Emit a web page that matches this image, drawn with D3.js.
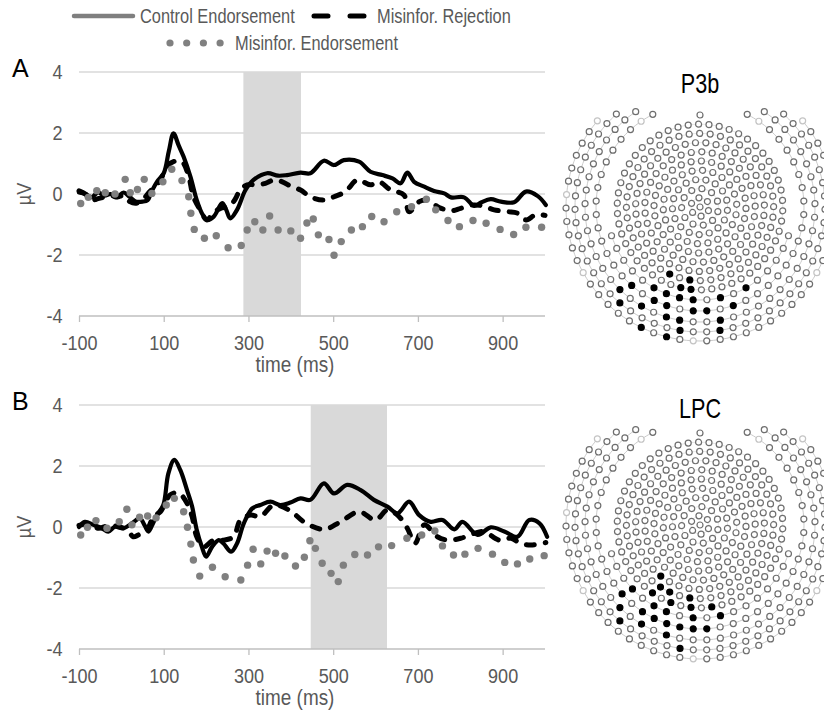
<!DOCTYPE html>
<html><head><meta charset="utf-8">
<script src="https://cdn.jsdelivr.net/npm/d3@7"></script>
<style>html,body{margin:0;padding:0;background:#fff;}</style>
</head><body>
<svg id="chart" width="824" height="714"></svg>
<script>
// ---------- DATA ----------
const xTicks = [-100, 100, 300, 500, 700, 900];
const yTicks = [-4, -2, 0, 2, 4];
const seriesNames = ["Control Endorsement", "Misinfor. Rejection", "Misinfor. Endorsement"];
const panelLabels = ["A", "B"];
const componentTitles = ["P3b", "LPC"];
const windowA = [288, 424];
const windowB = [447, 627];

const controlA = [[-100,0.05],[-85,0.0],[-70,-0.1],[-55,0.05],[-40,-0.05],[-25,0.0],[-10,-0.1],[5,0.05],[20,-0.1],[35,-0.25],[50,-0.25],[62,-0.2],[72,0.1],[84,0.4],[100,0.68],[112,1.4],[123,1.99],[135,1.6],[147,1.22],[163,0.57],[178,-0.2],[190,-0.63],[202,-0.85],[218,-0.74],[238,-0.3],[247,-0.5],[257,-0.8],[273,-0.52],[293,0.13],[312,0.46],[344,0.68],[370,0.6],[391,0.62],[423,0.7],[446,0.68],[478,1.09],[502,0.95],[525,1.11],[561,1.06],[588,0.73],[616,0.62],[640,0.51],[659,0.35],[675,0.7],[691,0.4],[715,0.24],[738,0.1],[762,0.02],[778,-0.11],[809,-0.11],[833,-0.39],[849,-0.28],[872,-0.17],[896,-0.25],[927,-0.27],[955,0.08],[983,-0.07],[1002,-0.36]];
const rejectionA = [[-100,0.1],[-85,0.0],[-70,-0.2],[-55,-0.15],[-40,-0.1],[-25,-0.05],[-10,-0.1],[5,-0.05],[20,-0.25],[35,-0.3],[50,-0.2],[65,0.05],[80,0.25],[92,0.46],[108,0.9],[123,1.06],[143,1.06],[159,0.57],[170,-0.09],[186,-0.52],[202,-0.85],[218,-0.6],[234,-0.47],[253,-0.41],[265,-0.25],[281,0.13],[297,0.3],[320,0.3],[340,0.35],[360,0.46],[380,0.4],[399,0.26],[423,0.13],[446,-0.09],[478,-0.2],[502,-0.09],[529,0.08],[557,0.46],[588,0.3],[608,0.4],[636,0.13],[667,-0.03],[679,-0.58],[703,-0.25],[722,-0.2],[750,-0.44],[778,-0.55],[801,-0.47],[829,-0.36],[853,-0.39],[880,-0.52],[912,-0.58],[935,-0.63],[955,-0.85],[979,-0.67],[1000,-0.7]];
const endorsementA = [[-96,-0.31],[-78,-0.11],[-58,0.11],[-38,0.04],[-15,0.0],[9,0.48],[21,0.04],[38,0.15],[54,0.48],[72,0.02],[98,0.4],[119,0.81],[143,0.44],[159,-0.09],[164,-0.63],[172,-1.16],[196,-1.45],[224,-1.37],[252,-1.76],[283,-1.69],[297,-1.18],[315,-0.91],[334,-1.18],[350,-0.72],[370,-1.18],[400,-1.21],[423,-1.45],[438,-0.95],[453,-0.82],[465,-1.34],[490,-1.49],[502,-2.01],[519,-1.56],[543,-1.18],[569,-1.07],[591,-0.74],[620,-0.91],[650,-0.58],[685,-0.42],[720,-0.17],[742,-0.52],[771,-0.87],[798,-1.07],[830,-0.87],[861,-0.96],[894,-1.16],[926,-1.33],[955,-1.09],[992,-1.09]];

const controlB = [[-100,0.0],[-86,0.17],[-66,0.07],[-46,-0.04],[-31,-0.15],[-15,0.01],[5,-0.04],[25,0.12],[44,0.28],[55,0.05],[64,-0.15],[74,0.1],[84,0.39],[99,0.72],[111,1.76],[125,2.2],[139,1.87],[155,1.21],[167,0.67],[178,-0.1],[190,-0.65],[200,-0.97],[214,-0.65],[230,-0.43],[241,-0.54],[259,-0.81],[273,-0.54],[289,0.12],[309,0.61],[328,0.72],[352,0.83],[375,0.72],[399,0.8],[423,0.94],[446,0.89],[478,1.43],[502,1.1],[533,1.38],[565,1.21],[596,0.89],[628,0.67],[652,0.45],[679,0.83],[703,0.39],[730,0.17],[758,0.23],[786,-0.08],[805,0.17],[841,-0.26],[872,-0.01],[904,-0.15],[935,-0.32],[963,0.23],[987,0.12],[1005,-0.32]];
const rejectionB = [[-100,0.05],[-80,0.1],[-54,-0.04],[-30,0.05],[-7,0.01],[15,-0.1],[28,-0.32],[40,-0.26],[60,-0.1],[76,0.34],[92,0.5],[115,1.05],[135,1.12],[155,0.78],[167,0.34],[178,-0.32],[194,-0.65],[218,-0.43],[241,-0.43],[265,-0.32],[281,0.23],[305,0.39],[328,0.34],[360,0.72],[399,0.53],[431,0.17],[478,-0.08],[517,0.17],[561,0.5],[600,0.23],[628,0.56],[652,0.39],[675,-0.04],[693,-0.54],[715,0.07],[746,-0.32],[770,-0.43],[801,-0.37],[833,-0.21],[856,-0.15],[892,-0.43],[920,-0.37],[943,-0.54],[967,-0.59],[1002,-0.51]];
const endorsementB = [[-96,-0.26],[-80,-0.01],[-60,0.21],[-34,-0.04],[-5,0.17],[13,0.58],[25,0.07],[43,0.32],[62,0.36],[82,0.3],[106,0.72],[125,0.94],[147,0.5],[156,-0.01],[164,-0.56],[170,-1.08],[185,-1.61],[215,-1.32],[245,-1.63],[282,-1.74],[298,-1.25],[311,-0.73],[329,-1.21],[344,-0.79],[364,-0.86],[386,-0.95],[411,-1.28],[432,-0.99],[445,-0.45],[458,-0.7],[474,-1.19],[495,-1.52],[512,-1.79],[524,-1.25],[551,-0.9],[581,-0.92],[607,-0.65],[638,-0.61],[674,-0.37],[709,-0.26],[740,-0.13],[758,-0.62],[784,-0.92],[811,-0.89],[842,-0.7],[876,-0.89],[905,-1.16],[935,-1.21],[964,-1.05],[998,-0.94]];

// highlighted sensors, as [radius, angle in degrees] on the montage
const p3bSensors = [[72,113],[74,101],[114,134],[106,128],[98,121],[91,114],[83,107],[83,95],[92,64],[125,128],[117,122],[110,116],[102,109],[93,102],[94,90],[93,76],[103,71],[104,96],[103,83],[112,77],[129,115],[120,109],[113,102],[122,97],[122,83],[132,102]];
const lpcSensors = [[69,127],[102,141],[95,134],[87,127],[79,121],[71,114],[72,101],[111,135],[106,127],[98,121],[90,114],[80,108],[82,95],[82,83],[92,76],[123,128],[115,123],[107,116],[100,109],[109,103],[102,96],[93,90],[103,83],[119,109],[129,102]];
const lightSensors = [[134,184],[134,218],[134,90],[134,148],[134,356],[134,322],[134,32],[104,-58],[104,238]];

// montage rings: inner closed rings (radius) and outer open arcs [radius, first angle, last angle]
const innerRings = [9.2, 18.4, 27.6, 36.8, 46, 55.2, 64.4, 73.6, 82.8];
const outerRings = [[93, 18, 162], [104, -63, 243], [115, -56, 236], [125, -48, 228], [134, -40, 220]];

// ---------- LAYOUT ----------
const svg = d3.select("#chart");
svg.append("rect").attr("width", 824).attr("height", 714).attr("fill", "#fff");
const FONT = "'Liberation Sans', Arial, sans-serif";
const GRAY_TXT = "#595959";

function txt(g, x, y, s, o) {
  const rot = o.rotate ? ` rotate(${o.rotate})` : "";
  return g.append("text")
    .attr("transform", `translate(${x},${y})${rot} scale(${o.sx || 1},1)`)
    .attr("text-anchor", o.anchor || "start")
    .attr("dy", o.dy || null)
    .style("font-family", FONT).style("font-size", o.size + "px")
    .attr("fill", o.fill || GRAY_TXT).text(s);
}

const x = d3.scaleLinear().domain([-100, 1000]).range([79, 545]);
const lineGen = (y) => d3.line().x(d => x(d[0])).y(d => y(d[1])).curve(d3.curveCatmullRom.alpha(0.5));

function panel(top, bottom, label, data, win) {
  const y = d3.scaleLinear().domain([-4, 4]).range([bottom, top]);
  const g = svg.append("g");
  g.selectAll("line.grid").data(yTicks.filter(v => v > -4)).join("line")
    .attr("x1", x(-100)).attr("x2", x(1000)).attr("y1", d => y(d)).attr("y2", d => y(d))
    .attr("stroke", "#d9d9d9").attr("stroke-width", 1.3);
  g.append("rect").attr("x", x(win[0])).attr("width", x(win[1]) - x(win[0]))
    .attr("y", y(4)).attr("height", y(-4) - y(4)).attr("fill", "#d9d9d9");
  const ax = g.append("g").attr("transform", `translate(0,${y(-4)})`)
    .call(d3.axisBottom(x).tickValues(xTicks).tickSize(6).tickPadding(13).tickFormat(d => String(d)));
  ax.select(".domain").attr("stroke", "#bfbfbf").attr("stroke-width", 1.3).attr("d", `M${x(-100)},0H${x(1000)}`);
  ax.selectAll(".tick line").attr("stroke", "#bfbfbf").attr("stroke-width", 1.3);
  ax.selectAll(".tick text").attr("fill", GRAY_TXT).style("font-family", FONT).style("font-size", "21px")
    .attr("transform", "scale(0.86,1)");
  const ay = g.append("g").attr("transform", `translate(${x(-100)},0)`)
    .call(d3.axisLeft(y).tickValues(yTicks).tickSize(0).tickPadding(19).tickFormat(d => String(d)));
  ay.select(".domain").remove();
  ay.selectAll(".tick text").attr("fill", GRAY_TXT).style("font-family", FONT).style("font-size", "21px")
    .attr("transform", "scale(0.86,1)");
  txt(g, 24, y(0), "µV", {size: 21, sx: 0.86, anchor: "middle", rotate: -90, dy: "0.35em"});
  txt(g, 295, y(-4) + 56, "time (ms)", {size: 22, sx: 0.86, anchor: "middle"});
  txt(g, 12, top + 5, label, {size: 25, sx: 1.0, fill: "#000"});
  const lg = lineGen(y);
  g.append("path").attr("d", lg(data[0])).attr("fill", "none").attr("stroke", "#000")
    .attr("stroke-width", 4.2).attr("stroke-linejoin", "round").attr("stroke-linecap", "round");
  g.append("path").attr("d", lg(data[1])).attr("fill", "none").attr("stroke", "#000")
    .attr("stroke-width", 5).attr("stroke-dasharray", "8 11").attr("stroke-linecap", "round");
  g.selectAll("circle.dot").data(data[2]).join("circle")
    .attr("cx", d => x(d[0])).attr("cy", d => y(d[1])).attr("r", 3.7).attr("fill", "#808080");
}

panel(72, 316, panelLabels[0], [controlA, rejectionA, endorsementA], windowA);
panel(405, 649, panelLabels[1], [controlB, rejectionB, endorsementB], windowB);

// ---------- LEGEND ----------
const leg = svg.append("g");
leg.append("line").attr("x1", 74).attr("x2", 133).attr("y1", 16).attr("y2", 16)
  .attr("stroke", "#7f7f7f").attr("stroke-width", 4.5).attr("stroke-linecap", "round");
txt(leg, 140, 23, seriesNames[0], {size: 20, sx: 0.82});
leg.append("line").attr("x1", 314).attr("x2", 368).attr("y1", 16).attr("y2", 16)
  .attr("stroke", "#000").attr("stroke-width", 5).attr("stroke-dasharray", "14 22").attr("stroke-linecap", "round");
txt(leg, 377, 23, seriesNames[1], {size: 20, sx: 0.82});
leg.selectAll("circle").data([0, 1, 2, 3]).join("circle")
  .attr("cx", d => 170 + d * 16.7).attr("cy", 43).attr("r", 3.6).attr("fill", "#808080");
txt(leg, 235, 50, seriesNames[2], {size: 20, sx: 0.82});

// ---------- SENSOR MONTAGES ----------
const rad = a => a * Math.PI / 180;
function buildMontage() {
  const rings = [];
  innerRings.forEach((r, k) => {
    const n = Math.round(2 * Math.PI * r / 10.4), off = (k + 1) * 0.41, pts = [];
    for (let i = 0; i < n; i++) { const a = off + 2 * Math.PI * i / n; pts.push([r * Math.cos(a), r * Math.sin(a)]); }
    rings.push({closed: true, pts});
  });
  outerRings.forEach(([r, d0, d1]) => {
    const a0 = rad(d0), a1 = rad(d1), n = Math.round((a1 - a0) * r / 13.5), pts = [];
    for (let i = 0; i <= n; i++) { const a = a0 + (a1 - a0) * i / n; pts.push([r * Math.cos(a), r * Math.sin(a)]); }
    rings.push({closed: false, pts});
  });
  return rings;
}
const montage = buildMontage();

function drawHead(cx, cy, title, titleY, sensors) {
  const g = svg.append("g").attr("transform", `translate(${cx},${cy})`);
  montage.forEach(rg => {
    const l = d3.line().curve(rg.closed ? d3.curveCardinalClosed : d3.curveCardinal);
    g.append("path").attr("d", l(rg.pts)).attr("fill", "none")
      .attr("stroke", rg.closed ? "#e2e2e2" : "#c4c4c4").attr("stroke-width", 0.9);
  });
  const all = [[0, 0]].concat(...montage.map(r => r.pts)).concat([[0, -92]]).map(p => ({x: p[0], y: p[1], s: 0}));
  const mark = (list, s) => list.forEach(([r, a]) => {
    const px = r * Math.cos(rad(a)), py = r * Math.sin(rad(a));
    let best = null, bd = 1e9;
    all.forEach(e => { const d = (e.x - px) ** 2 + (e.y - py) ** 2; if (d < bd && e.s === 0) { bd = d; best = e; } });
    if (best) best.s = s;
  });
  mark(lightSensors, 2);
  mark(sensors, 1);
  g.selectAll("circle").data(all).join("circle")
    .attr("cx", d => d.x).attr("cy", d => d.y).attr("r", 3)
    .attr("fill", d => d.s === 1 ? "#000" : "#fff")
    .attr("stroke", d => d.s === 1 ? "#000" : d.s === 2 ? "#c4c4c4" : "#6e6e6e")
    .attr("stroke-width", 1.2);
  txt(svg, cx, titleY, title, {size: 27, sx: 0.8, anchor: "middle", fill: "#000"});
}
drawHead(700, 207, componentTitles[0], 93, p3bSensors);
drawHead(700, 525, componentTitles[1], 418, lpcSensors);
</script>
</body></html>
